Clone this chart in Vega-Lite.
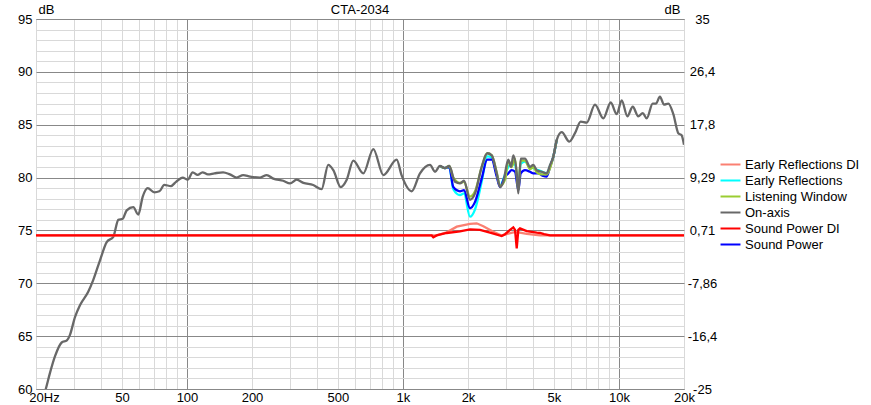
{
  "$schema": "https://vega.github.io/schema/vega-lite/v6.json",
  "width": 648,
  "height": 370,
  "autosize": {"type": "none"},
  "padding": {"left": 36, "top": 19, "right": 187, "bottom": 16},
  "title": {"text": "CTA-2034", "fontSize": 13, "fontWeight": "normal", "font": "Liberation Sans", "color": "#000", "offset": -24, "baseline": "alphabetic"},
  "datasets": {
    "curves": [
      {"curve": "Early Reflections", "freq": 1483, "db": 81.1},
      {"curve": "Early Reflections", "freq": 1565, "db": 80.9},
      {"curve": "Early Reflections", "freq": 1638, "db": 81.0},
      {"curve": "Early Reflections", "freq": 1710, "db": 78.9},
      {"curve": "Early Reflections", "freq": 1836, "db": 78.35},
      {"curve": "Early Reflections", "freq": 1916, "db": 78.5},
      {"curve": "Early Reflections", "freq": 2043, "db": 76.3},
      {"curve": "Early Reflections", "freq": 2156, "db": 77.0},
      {"curve": "Early Reflections", "freq": 2314, "db": 79.6},
      {"curve": "Early Reflections", "freq": 2456, "db": 82.0},
      {"curve": "Early Reflections", "freq": 2576, "db": 81.9},
      {"curve": "Early Reflections", "freq": 2716, "db": 80.3},
      {"curve": "Early Reflections", "freq": 2814, "db": 79.2},
      {"curve": "Early Reflections", "freq": 2968, "db": 80.3},
      {"curve": "Early Reflections", "freq": 3074, "db": 81.0},
      {"curve": "Early Reflections", "freq": 3186, "db": 81.3},
      {"curve": "Early Reflections", "freq": 3302, "db": 81.2},
      {"curve": "Early Reflections", "freq": 3420, "db": 79.0},
      {"curve": "Early Reflections", "freq": 3508, "db": 81.3},
      {"curve": "Early Reflections", "freq": 3672, "db": 81.5},
      {"curve": "Early Reflections", "freq": 3872, "db": 81.0},
      {"curve": "Early Reflections", "freq": 4012, "db": 80.9},
      {"curve": "Early Reflections", "freq": 4232, "db": 80.7},
      {"curve": "Early Reflections", "freq": 4464, "db": 80.5},
      {"curve": "Early Reflections", "freq": 4626, "db": 80.4},
      {"curve": "Early Reflections", "freq": 4796, "db": 81.1},
      {"curve": "Early Reflections", "freq": 4966, "db": 81.97},
      {"curve": "Early Reflections", "freq": 5148, "db": 83.55},
      {"curve": "Sound Power", "freq": 1483, "db": 81.1},
      {"curve": "Sound Power", "freq": 1565, "db": 80.9},
      {"curve": "Sound Power", "freq": 1638, "db": 81.0},
      {"curve": "Sound Power", "freq": 1710, "db": 79.1},
      {"curve": "Sound Power", "freq": 1836, "db": 78.7},
      {"curve": "Sound Power", "freq": 1916, "db": 78.8},
      {"curve": "Sound Power", "freq": 2043, "db": 77.1},
      {"curve": "Sound Power", "freq": 2156, "db": 77.7},
      {"curve": "Sound Power", "freq": 2314, "db": 79.9},
      {"curve": "Sound Power", "freq": 2456, "db": 81.7},
      {"curve": "Sound Power", "freq": 2576, "db": 81.7},
      {"curve": "Sound Power", "freq": 2716, "db": 80.1},
      {"curve": "Sound Power", "freq": 2814, "db": 79.1},
      {"curve": "Sound Power", "freq": 2968, "db": 80.1},
      {"curve": "Sound Power", "freq": 3074, "db": 80.4},
      {"curve": "Sound Power", "freq": 3186, "db": 80.7},
      {"curve": "Sound Power", "freq": 3302, "db": 80.55},
      {"curve": "Sound Power", "freq": 3420, "db": 78.8},
      {"curve": "Sound Power", "freq": 3508, "db": 80.4},
      {"curve": "Sound Power", "freq": 3672, "db": 80.7},
      {"curve": "Sound Power", "freq": 3872, "db": 80.55},
      {"curve": "Sound Power", "freq": 4012, "db": 80.4},
      {"curve": "Sound Power", "freq": 4232, "db": 80.4},
      {"curve": "Sound Power", "freq": 4464, "db": 80.15},
      {"curve": "Sound Power", "freq": 4626, "db": 80.1},
      {"curve": "Sound Power", "freq": 4796, "db": 81.0},
      {"curve": "Sound Power", "freq": 4966, "db": 81.97},
      {"curve": "Sound Power", "freq": 5148, "db": 83.55},
      {"curve": "Listening Window", "freq": 1483, "db": 81.1},
      {"curve": "Listening Window", "freq": 1565, "db": 80.9},
      {"curve": "Listening Window", "freq": 1638, "db": 81.1},
      {"curve": "Listening Window", "freq": 1710, "db": 80.0},
      {"curve": "Listening Window", "freq": 1836, "db": 79.5},
      {"curve": "Listening Window", "freq": 1916, "db": 79.6},
      {"curve": "Listening Window", "freq": 2043, "db": 78.2},
      {"curve": "Listening Window", "freq": 2156, "db": 78.7},
      {"curve": "Listening Window", "freq": 2314, "db": 81.0},
      {"curve": "Listening Window", "freq": 2456, "db": 82.3},
      {"curve": "Listening Window", "freq": 2576, "db": 82.1},
      {"curve": "Listening Window", "freq": 2716, "db": 80.5},
      {"curve": "Listening Window", "freq": 2814, "db": 79.2},
      {"curve": "Listening Window", "freq": 2968, "db": 79.8},
      {"curve": "Listening Window", "freq": 3074, "db": 81.6},
      {"curve": "Listening Window", "freq": 3186, "db": 81.0},
      {"curve": "Listening Window", "freq": 3302, "db": 81.8},
      {"curve": "Listening Window", "freq": 3420, "db": 78.8},
      {"curve": "Listening Window", "freq": 3508, "db": 81.6},
      {"curve": "Listening Window", "freq": 3672, "db": 81.6},
      {"curve": "Listening Window", "freq": 3872, "db": 80.8},
      {"curve": "Listening Window", "freq": 4012, "db": 81.0},
      {"curve": "Listening Window", "freq": 4160, "db": 80.5},
      {"curve": "Listening Window", "freq": 4386, "db": 80.3},
      {"curve": "Listening Window", "freq": 4626, "db": 80.3},
      {"curve": "Listening Window", "freq": 4796, "db": 80.9},
      {"curve": "Listening Window", "freq": 4966, "db": 81.97},
      {"curve": "Listening Window", "freq": 5148, "db": 83.55},
      {"curve": "On-axis", "freq": 20, "db": 57.0},
      {"curve": "On-axis", "freq": 22.2, "db": 60.0},
      {"curve": "On-axis", "freq": 23.2, "db": 61.5},
      {"curve": "On-axis", "freq": 24.5, "db": 63.1},
      {"curve": "On-axis", "freq": 26.3, "db": 64.4},
      {"curve": "On-axis", "freq": 27.8, "db": 64.6},
      {"curve": "On-axis", "freq": 28.7, "db": 65.1},
      {"curve": "On-axis", "freq": 30.3, "db": 66.8},
      {"curve": "On-axis", "freq": 32.0, "db": 67.95},
      {"curve": "On-axis", "freq": 34.9, "db": 69.2},
      {"curve": "On-axis", "freq": 36.8, "db": 70.3},
      {"curve": "On-axis", "freq": 39.6, "db": 72.2},
      {"curve": "On-axis", "freq": 42.5, "db": 73.9},
      {"curve": "On-axis", "freq": 45.6, "db": 74.4},
      {"curve": "On-axis", "freq": 48.1, "db": 76.0},
      {"curve": "On-axis", "freq": 50.4, "db": 76.1},
      {"curve": "On-axis", "freq": 52.6, "db": 76.9},
      {"curve": "On-axis", "freq": 56.4, "db": 77.2},
      {"curve": "On-axis", "freq": 59.5, "db": 76.5},
      {"curve": "On-axis", "freq": 62.4, "db": 78.2},
      {"curve": "On-axis", "freq": 65.8, "db": 79.0},
      {"curve": "On-axis", "freq": 70.6, "db": 78.6},
      {"curve": "On-axis", "freq": 74.5, "db": 78.7},
      {"curve": "On-axis", "freq": 78.5, "db": 79.3},
      {"curve": "On-axis", "freq": 84.3, "db": 79.2},
      {"curve": "On-axis", "freq": 89.0, "db": 79.6},
      {"curve": "On-axis", "freq": 95.5, "db": 80.0},
      {"curve": "On-axis", "freq": 100.8, "db": 79.8},
      {"curve": "On-axis", "freq": 106.3, "db": 80.5},
      {"curve": "On-axis", "freq": 112, "db": 80.25},
      {"curve": "On-axis", "freq": 118, "db": 80.5},
      {"curve": "On-axis", "freq": 125, "db": 80.3},
      {"curve": "On-axis", "freq": 134, "db": 80.4},
      {"curve": "On-axis", "freq": 147, "db": 80.5},
      {"curve": "On-axis", "freq": 158, "db": 80.3},
      {"curve": "On-axis", "freq": 170, "db": 80.0},
      {"curve": "On-axis", "freq": 182, "db": 80.24},
      {"curve": "On-axis", "freq": 196, "db": 80.1},
      {"curve": "On-axis", "freq": 218, "db": 80.0},
      {"curve": "On-axis", "freq": 234, "db": 80.24},
      {"curve": "On-axis", "freq": 251, "db": 79.9},
      {"curve": "On-axis", "freq": 279, "db": 79.7},
      {"curve": "On-axis", "freq": 300, "db": 79.45},
      {"curve": "On-axis", "freq": 322, "db": 79.8},
      {"curve": "On-axis", "freq": 346, "db": 79.5},
      {"curve": "On-axis", "freq": 384, "db": 79.3},
      {"curve": "On-axis", "freq": 420, "db": 78.9},
      {"curve": "On-axis", "freq": 451, "db": 81.2},
      {"curve": "On-axis", "freq": 476, "db": 80.7},
      {"curve": "On-axis", "freq": 515, "db": 79.1},
      {"curve": "On-axis", "freq": 549, "db": 79.8},
      {"curve": "On-axis", "freq": 589, "db": 81.6},
      {"curve": "On-axis", "freq": 655, "db": 80.4},
      {"curve": "On-axis", "freq": 729, "db": 82.7},
      {"curve": "On-axis", "freq": 811, "db": 80.24},
      {"curve": "On-axis", "freq": 935, "db": 81.7},
      {"curve": "On-axis", "freq": 986, "db": 80.2},
      {"curve": "On-axis", "freq": 1097, "db": 78.7},
      {"curve": "On-axis", "freq": 1199, "db": 80.4},
      {"curve": "On-axis", "freq": 1334, "db": 81.2},
      {"curve": "On-axis", "freq": 1407, "db": 80.55},
      {"curve": "On-axis", "freq": 1483, "db": 81.1},
      {"curve": "On-axis", "freq": 1565, "db": 80.9},
      {"curve": "On-axis", "freq": 1638, "db": 81.1},
      {"curve": "On-axis", "freq": 1742, "db": 79.6},
      {"curve": "On-axis", "freq": 1836, "db": 79.45},
      {"curve": "On-axis", "freq": 1916, "db": 79.7},
      {"curve": "On-axis", "freq": 2043, "db": 77.9},
      {"curve": "On-axis", "freq": 2156, "db": 78.5},
      {"curve": "On-axis", "freq": 2314, "db": 81.0},
      {"curve": "On-axis", "freq": 2456, "db": 82.3},
      {"curve": "On-axis", "freq": 2576, "db": 82.1},
      {"curve": "On-axis", "freq": 2716, "db": 80.4},
      {"curve": "On-axis", "freq": 2814, "db": 79.1},
      {"curve": "On-axis", "freq": 2914, "db": 79.6},
      {"curve": "On-axis", "freq": 3074, "db": 81.7},
      {"curve": "On-axis", "freq": 3164, "db": 81.0},
      {"curve": "On-axis", "freq": 3242, "db": 82.1},
      {"curve": "On-axis", "freq": 3362, "db": 80.4},
      {"curve": "On-axis", "freq": 3420, "db": 78.5},
      {"curve": "On-axis", "freq": 3508, "db": 81.8},
      {"curve": "On-axis", "freq": 3672, "db": 81.8},
      {"curve": "On-axis", "freq": 3872, "db": 81.0},
      {"curve": "On-axis", "freq": 4012, "db": 81.2},
      {"curve": "On-axis", "freq": 4160, "db": 80.7},
      {"curve": "On-axis", "freq": 4386, "db": 80.55},
      {"curve": "On-axis", "freq": 4626, "db": 80.4},
      {"curve": "On-axis", "freq": 4796, "db": 81.2},
      {"curve": "On-axis", "freq": 4966, "db": 81.97},
      {"curve": "On-axis", "freq": 5148, "db": 83.55},
      {"curve": "On-axis", "freq": 5432, "db": 84.3},
      {"curve": "On-axis", "freq": 5888, "db": 83.4},
      {"curve": "On-axis", "freq": 6256, "db": 84.2},
      {"curve": "On-axis", "freq": 6650, "db": 85.3},
      {"curve": "On-axis", "freq": 7088, "db": 85.2},
      {"curve": "On-axis", "freq": 7746, "db": 86.9},
      {"curve": "On-axis", "freq": 8460, "db": 85.6},
      {"curve": "On-axis", "freq": 9160, "db": 87.1},
      {"curve": "On-axis", "freq": 9760, "db": 86.0},
      {"curve": "On-axis", "freq": 10296, "db": 87.3},
      {"curve": "On-axis", "freq": 10930, "db": 85.8},
      {"curve": "On-axis", "freq": 11578, "db": 86.7},
      {"curve": "On-axis", "freq": 12280, "db": 85.8},
      {"curve": "On-axis", "freq": 12880, "db": 86.1},
      {"curve": "On-axis", "freq": 13440, "db": 85.6},
      {"curve": "On-axis", "freq": 14320, "db": 87.0},
      {"curve": "On-axis", "freq": 14830, "db": 87.0},
      {"curve": "On-axis", "freq": 15480, "db": 87.65},
      {"curve": "On-axis", "freq": 16160, "db": 86.9},
      {"curve": "On-axis", "freq": 16920, "db": 87.0},
      {"curve": "On-axis", "freq": 17850, "db": 86.0},
      {"curve": "On-axis", "freq": 18820, "db": 84.2},
      {"curve": "On-axis", "freq": 19500, "db": 84.0},
      {"curve": "On-axis", "freq": 20000, "db": 83.1}
    ],
    "di": [
      {"curve": "Early Reflections DI", "freq": 20, "db": -0.1},
      {"curve": "Early Reflections DI", "freq": 1432, "db": -0.1},
      {"curve": "Early Reflections DI", "freq": 1594, "db": 0.4},
      {"curve": "Early Reflections DI", "freq": 1774, "db": 1.33},
      {"curve": "Early Reflections DI", "freq": 2043, "db": 1.76},
      {"curve": "Early Reflections DI", "freq": 2194, "db": 1.87},
      {"curve": "Early Reflections DI", "freq": 2355, "db": 1.4},
      {"curve": "Early Reflections DI", "freq": 2620, "db": 0.5},
      {"curve": "Early Reflections DI", "freq": 2864, "db": -0.1},
      {"curve": "Early Reflections DI", "freq": 3074, "db": 0.2},
      {"curve": "Early Reflections DI", "freq": 3242, "db": 0.4},
      {"curve": "Early Reflections DI", "freq": 3420, "db": 0.4},
      {"curve": "Early Reflections DI", "freq": 3740, "db": 0.15},
      {"curve": "Early Reflections DI", "freq": 4308, "db": -0.1},
      {"curve": "Early Reflections DI", "freq": 20000, "db": -0.1},
      {"curve": "Sound Power DI", "freq": 20, "db": -0.1},
      {"curve": "Sound Power DI", "freq": 1358, "db": -0.1},
      {"curve": "Sound Power DI", "freq": 1382, "db": -0.4},
      {"curve": "Sound Power DI", "freq": 1432, "db": -0.1},
      {"curve": "Sound Power DI", "freq": 1594, "db": 0.3},
      {"curve": "Sound Power DI", "freq": 1836, "db": 0.55},
      {"curve": "Sound Power DI", "freq": 2043, "db": 0.9},
      {"curve": "Sound Power DI", "freq": 2272, "db": 0.8},
      {"curve": "Sound Power DI", "freq": 2530, "db": 0.35},
      {"curve": "Sound Power DI", "freq": 2864, "db": -0.2},
      {"curve": "Sound Power DI", "freq": 2968, "db": 0.1},
      {"curve": "Sound Power DI", "freq": 3130, "db": 0.8},
      {"curve": "Sound Power DI", "freq": 3242, "db": 1.2},
      {"curve": "Sound Power DI", "freq": 3302, "db": 0.8},
      {"curve": "Sound Power DI", "freq": 3362, "db": -2.2},
      {"curve": "Sound Power DI", "freq": 3420, "db": 0.8},
      {"curve": "Sound Power DI", "freq": 3482, "db": 1.05},
      {"curve": "Sound Power DI", "freq": 3740, "db": 0.6},
      {"curve": "Sound Power DI", "freq": 4160, "db": 0.35},
      {"curve": "Sound Power DI", "freq": 4308, "db": 0.3},
      {"curve": "Sound Power DI", "freq": 4500, "db": 0.1},
      {"curve": "Sound Power DI", "freq": 4796, "db": -0.1},
      {"curve": "Sound Power DI", "freq": 20000, "db": -0.1}
    ]
  },
  "encoding": {
    "x": {
      "field": "freq", "type": "quantitative",
      "scale": {"type": "log", "domain": [20, 20000], "nice": false},
      "axis": {
        "title": null, "ticks": false, "domain": false,
        "values": [20, 30, 40, 50, 60, 70, 80, 90, 100, 200, 300, 400, 500, 600, 700, 800, 900, 1000, 2000, 3000, 4000, 5000, 6000, 7000, 8000, 9000, 10000, 20000],
        "labelExpr": "datum.value == 20 ? '20Hz' : indexof([50, 100, 200, 500], datum.value) >= 0 ? '' + datum.value : indexof([1000, 2000, 5000, 10000, 20000], datum.value) >= 0 ? (datum.value / 1000) + 'k' : ''",
        "labelFlush": false, "labelOverlap": false, "labelBound": false,
        "labelPadding": 2, "labelBaseline": "top",
        "labelOffset": {"condition": {"test": "datum.value == 20", "value": 8}, "value": 0},
        "gridColor": {"condition": {"test": "indexof([100, 1000, 10000], datum.value) >= 0", "value": "#888888"}, "value": "#d9d9d9"}
      }
    },
    "color": {
      "field": "curve", "type": "nominal",
      "scale": {
        "domain": ["Early Reflections DI", "Early Reflections", "Listening Window", "On-axis", "Sound Power DI", "Sound Power"],
        "range": ["#fa8072", "#00ffff", "#9acd32", "#686868", "#ff0000", "#0000ff"]
      },
      "legend": {
        "title": null, "orient": "none", "legendX": 686, "legendY": 137,
        "symbolType": "M-1.33,0H1.33", "symbolSize": 225, "symbolStrokeWidth": 2,
        "rowPadding": -0.4, "labelOffset": 6, "padding": 0
      }
    }
  },
  "layer": [
    {
      "data": {"name": "curves"},
      "mark": {"type": "line", "clip": true, "strokeWidth": 2.3, "interpolate": "monotone"},
      "encoding": {
        "y": {
          "field": "db", "type": "quantitative",
          "scale": {"domain": [60, 95], "nice": false, "zero": false},
          "axis": {
            "title": "dB", "titleAngle": 0, "titleX": 2, "titleY": -10, "titleAlign": "left", "titleBaseline": "middle",
            "titleFontWeight": "normal", "titleFontSize": 13,
            "ticks": false, "domain": false, "labelPadding": 4,
            "values": [60, 61, 62, 63, 64, 65, 66, 67, 68, 69, 70, 71, 72, 73, 74, 75, 76, 77, 78, 79, 80, 81, 82, 83, 84, 85, 86, 87, 88, 89, 90, 91, 92, 93, 94, 95],
            "labelExpr": "datum.value % 5 == 0 ? '' + datum.value : ''",
            "labelOverlap": false, "labelFlush": false,
            "gridColor": {"condition": {"test": "datum.value % 5 == 0", "value": "#888888"}, "value": "#d9d9d9"}
          }
        }
      }
    },
    {
      "data": {"name": "di"},
      "mark": {"type": "line", "clip": true, "strokeWidth": 2.3},
      "encoding": {
        "y": {
          "field": "db", "type": "quantitative",
          "scale": {"domain": [-25, 35], "nice": false, "zero": false},
          "axis": {
            "orient": "right", "grid": false, "ticks": false, "domain": false,
            "title": "dB", "titleAngle": 0, "titleX": -4, "titleY": -10, "titleAlign": "right", "titleBaseline": "middle",
            "titleFontWeight": "normal", "titleFontSize": 13,
            "values": [35, 26.43, 17.86, 9.29, 0.71, -7.86, -16.43, -25],
            "labelExpr": "datum.value > 30 ? '35' : datum.value > 20 ? '26,4' : datum.value > 10 ? '17,8' : datum.value > 5 ? '9,29' : datum.value > 0 ? '0,71' : datum.value > -10 ? '-7,86' : datum.value > -20 ? '-16,4' : '-25'",
            "labelAlign": "center", "labelPadding": 18, "labelOverlap": false, "labelFlush": false
          }
        }
      }
    }
  ],
  "resolve": {"scale": {"y": "independent"}},
  "config": {
    "font": "Liberation Sans",
    "background": "white",
    "view": {"stroke": "#6e6e6e", "strokeWidth": 1},
    "axis": {"labelFontSize": 13, "labelColor": "#000", "titleColor": "#000", "gridWidth": 1, "gridOpacity": 1},
    "legend": {"labelFontSize": 13, "labelColor": "#000", "labelLimit": 200}
  }
}
